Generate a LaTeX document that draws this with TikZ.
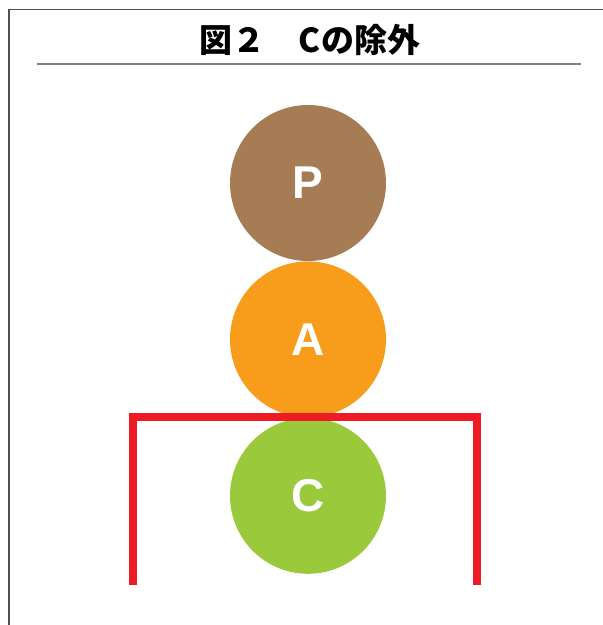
\documentclass[tikz,border=0pt]{standalone}
\usepackage{fontspec}
\setsansfont{Liberation Sans}
\newfontfamily\jpfont{Noto Sans CJK JP}
\definecolor{pbrown}{RGB}{166, 124, 85}
\definecolor{aorange}{RGB}{248, 156, 28}
\definecolor{cgreen}{RGB}{154, 202, 60}
\definecolor{exred}{RGB}{237, 28, 36}
\definecolor{framegray}{RGB}{80, 80, 80}
\usetikzlibrary{positioning}

\begin{document}
\begin{tikzpicture}[x=1pt, y=-1pt,
  ball/.style={circle, minimum size=156pt, inner sep=0pt, text=white,
    font=\sffamily\bfseries\fontsize{46}{46}\selectfont},
  redbar/.style={exred, line width=8pt, line join=miter}]
  \useasboundingbox (0,0) rectangle (603,625);

  % frame
  \draw[framegray, line width=1.5pt] (9,640) -- (9,9.5) -- (620,9.5);

  % title
  \node (title) at (310,40) {\jpfont\bfseries\fontsize{33}{33}\selectfont 図２　Cの除外};
  \draw[gray, line width=1.2pt] (37,64) -- (581,64);

  % circles
  \node[ball, fill=pbrown] (P) at (308,183) {P};
  \node[ball, fill=aorange, below=0pt of P] (A) {A};
  \node[ball, fill=cgreen, below=0pt of A] (C) {C};

  % red bracket round C
  \draw[redbar] (133,585) -- (133,417) -- (477,417) -- (477,585);
\end{tikzpicture}
\end{document}
